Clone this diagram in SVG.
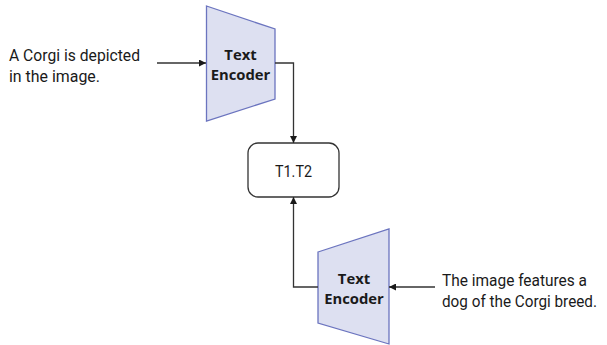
<svg xmlns="http://www.w3.org/2000/svg" width="607" height="345" viewBox="0 0 607 345">
  <style>
    .enc { fill: #dde0f1; stroke: #6b74bf; stroke-width: 1.3; }
    .box { fill: #ffffff; stroke: #333333; stroke-width: 1.3; }
    .lbl { font-family: Roboto, "Open Sans", sans-serif; font-size: 17px; fill: #1a1a1a; }
    .lbl.sm { font-size: 16px; }
    .enc-t { font-family: "Open Sans", "Noto Sans", sans-serif; font-size: 14.8px; font-weight: bold; fill: #1a1a1a; text-anchor: middle; }
    .wire { fill: none; stroke: #333333; stroke-width: 1.3; marker-end: url(#arrow); }
  </style>
  <defs>
    <marker id="arrow" viewBox="0 0 10 10" refX="10" refY="5" markerWidth="7" markerHeight="7" markerUnits="userSpaceOnUse" orient="auto">
      <path d="M0,0 L10,5 L0,10 z" fill="#1a1a1a"/>
    </marker>
  </defs>
  <rect width="607" height="345" fill="#ffffff"/>

  <g id="caption-top">
    <text class="lbl" x="9" y="61" textLength="131" lengthAdjust="spacingAndGlyphs">A Corgi is depicted</text>
    <text class="lbl" x="9" y="82" textLength="91" lengthAdjust="spacingAndGlyphs">in the image.</text>
  </g>

  <g id="encoder-top">
    <polygon class="enc" points="206.5,6 275,29 275,99 206.5,121"/>
    <text class="enc-t" x="240.5" y="60">Text</text>
    <text class="enc-t" x="240.5" y="80">Encoder</text>
  </g>

  <g id="product">
    <rect class="box" x="248" y="143" width="91" height="54" rx="10"/>
    <text class="lbl" x="275" y="177" textLength="37" lengthAdjust="spacingAndGlyphs">T1.T2</text>
  </g>

  <g id="encoder-bottom">
    <polygon class="enc" points="318,252 389,229 389,344 318,323"/>
    <text class="enc-t" x="354" y="283.5">Text</text>
    <text class="enc-t" x="354" y="304">Encoder</text>
  </g>

  <g id="caption-bottom">
    <text class="lbl sm" x="442" y="286" textLength="145" lengthAdjust="spacingAndGlyphs">The image features a</text>
    <text class="lbl sm" x="442" y="307" textLength="155" lengthAdjust="spacingAndGlyphs">dog of the Corgi breed.</text>
  </g>

  <g id="connectors">
    <path class="wire" d="M157,63 H206"/>
    <path class="wire" d="M275,63 H293.5 V143"/>
    <path class="wire" d="M318,287 H293.5 V197"/>
    <path class="wire" d="M435,287 H389"/>
  </g>
</svg>
